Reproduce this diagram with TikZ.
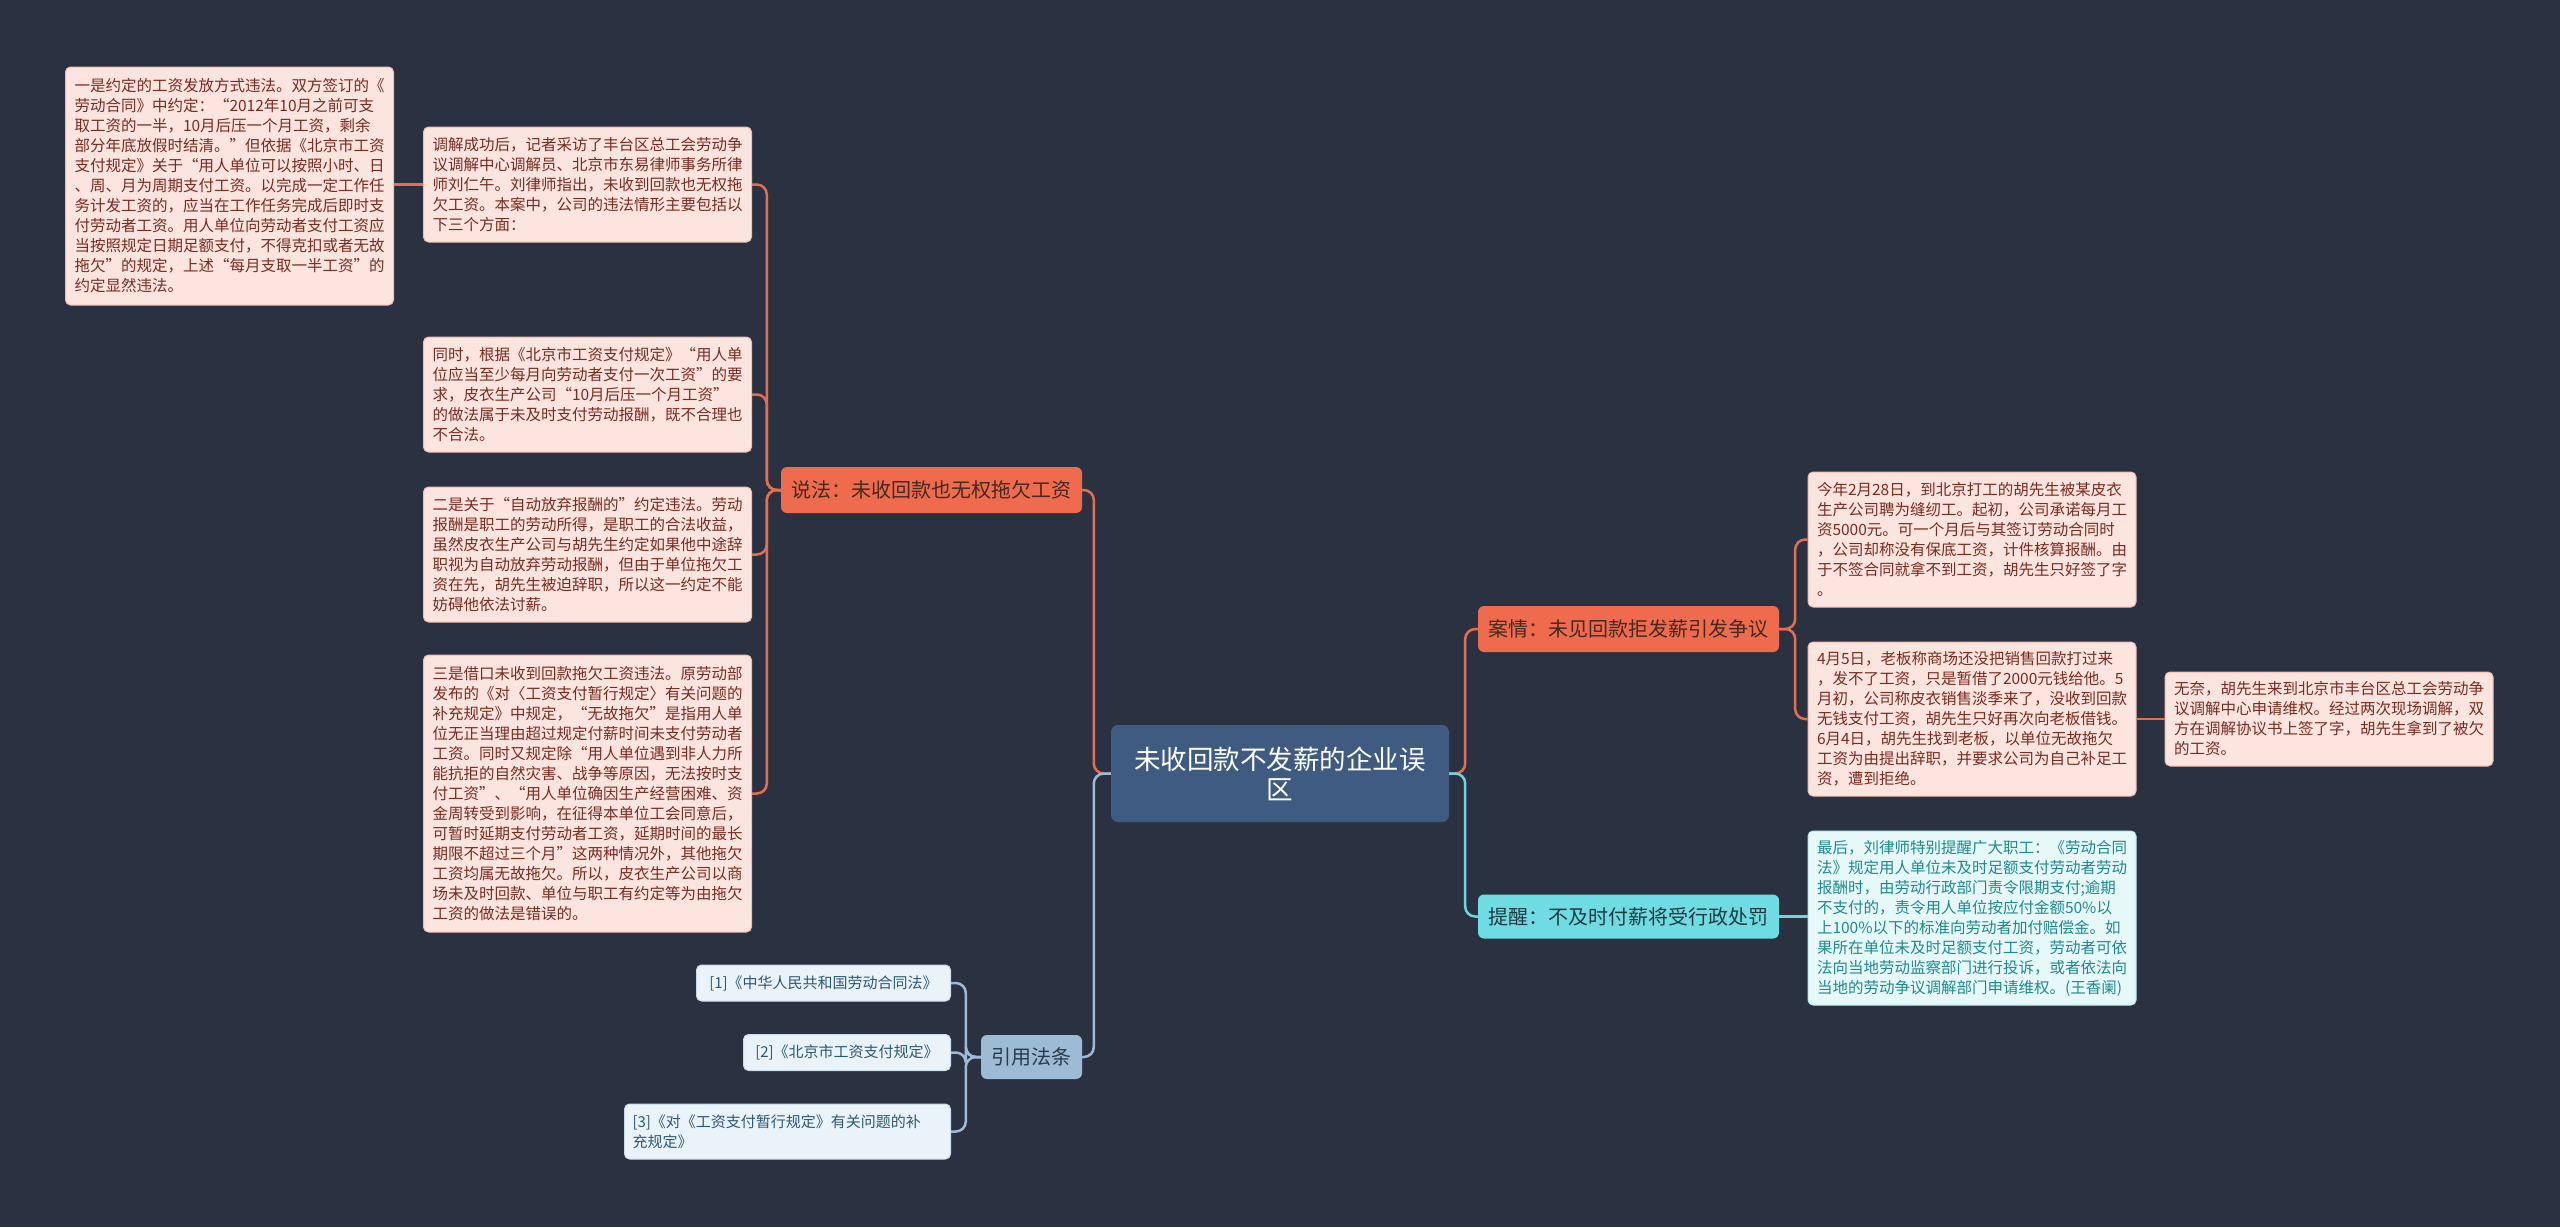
\documentclass[tikz,border=0pt]{standalone}
\usepackage{fontspec}
\setmainfont{Noto Sans CJK SC}
\usetikzlibrary{calc}
\definecolor{bgc}{HTML}{2A3242}
\definecolor{mainf}{HTML}{3F5B82}
\definecolor{orgf}{HTML}{EE6B4E}
\definecolor{orgt}{HTML}{45281F}
\definecolor{orgl}{HTML}{E66E50}
\definecolor{pinkf}{HTML}{FCE4DF}
\definecolor{pinkd}{HTML}{F4BBAE}
\definecolor{pinkt}{HTML}{7B2B1E}
\definecolor{cyanf}{HTML}{6EDCE2}
\definecolor{cyant}{HTML}{1F3A3F}
\definecolor{cyanl}{HTML}{6BD6DC}
\definecolor{lcyanf}{HTML}{E7F8F8}
\definecolor{lcyand}{HTML}{B8E8EA}
\definecolor{lcyant}{HTML}{1E8A8F}
\definecolor{bluef}{HTML}{9EBBD6}
\definecolor{bluet}{HTML}{2A3A4A}
\definecolor{bluel}{HTML}{9BBBD6}
\definecolor{lbluef}{HTML}{EAF3F9}
\definecolor{lblued}{HTML}{C9DCEB}
\definecolor{lbluet}{HTML}{2C5878}
\newcommand\fsleaf{\fontsize{15.5}{20}\selectfont}
\newcommand\fsref{\fontsize{15}{20}\selectfont}
\newcommand\fsmid{\fontsize{20}{24}\selectfont}
\newcommand\fsmain{\fontsize{26.5}{30}\selectfont}
\tikzset{
  leaf/.style={rounded corners=5pt, fill=pinkf, draw=pinkd, line width=1pt, text=pinkt, font=\fsleaf, inner xsep=9pt, inner ysep=0pt, text width=310pt, align=left},
  cleaf/.style={leaf, fill=lcyanf, draw=lcyand, text=lcyant},
  rleaf/.style={rounded corners=5pt, fill=lbluef, draw=lblued, line width=1pt, text=lbluet, font=\fsref, inner xsep=8pt, inner ysep=0pt, align=left, anchor=east},
  mainnode/.style={rounded corners=7pt, fill=mainf, text=white, font=\fsmain, minimum width=338pt, minimum height=97pt, align=center, inner sep=0pt},
  midnode/.style={rounded corners=6pt, fill=orgf, text=orgt, font=\fsmid, minimum width=301pt, minimum height=46pt, inner sep=0pt},
  cmid/.style={midnode, fill=cyanf, text=cyant},
  bmid/.style={midnode, fill=bluef, text=bluet, minimum width=101pt, minimum height=44pt},
  oline/.style={draw=orgl, line width=2.5pt, rounded corners=10pt},
  cline/.style={draw=cyanl, line width=2.5pt, rounded corners=10pt},
  bline/.style={draw=bluel, line width=2.5pt, rounded corners=10pt}
}
\begin{document}
\begin{tikzpicture}[x=1pt,y=-1pt]
\fill[bgc] (0,0) rectangle (2560,1227);
\useasboundingbox (0,0) rectangle (2560,1227);

\node[mainnode] (center) at (1280,773.5) {未收回款不发薪的企业误\\区};

\node[midnode] (shuofa) at (931.5,490) {说法：未收回款也无权拖欠工资};
\node[midnode] (anqing) at (1628.5,629) {案情：未见回款拒发薪引发争议};
\node[cmid, minimum height=44pt] (tixing) at (1628.5,916.5) {提醒：不及时付薪将受行政处罚};
\node[bmid] (yinyong) at (1031.5,1057) {引用法条};

\node[leaf, minimum height=238pt] (b1) at (229.5,186) {一是约定的工资发放方式违法。双方签订的《\\劳动合同》中约定：“2012年10月之前可支\\取工资的一半，10月后压一个月工资，剩余\\部分年底放假时结清。”但依据《北京市工资\\支付规定》关于“用人单位可以按照小时、日\\、周、月为周期支付工资。以完成一定工作任\\务计发工资的，应当在工作任务完成后即时支\\付劳动者工资。用人单位向劳动者支付工资应\\当按照规定日期足额支付，不得克扣或者无故\\拖欠”的规定，上述“每月支取一半工资”的\\约定显然违法。};

\node[leaf, minimum height=115pt] (b2) at (587.5,184.5) {调解成功后，记者采访了丰台区总工会劳动争\\议调解中心调解员、北京市东易律师事务所律\\师刘仁午。刘律师指出，未收到回款也无权拖\\欠工资。本案中，公司的违法情形主要包括以\\下三个方面：};

\node[leaf, minimum height=115pt] (b3) at (587.5,394.5) {同时，根据《北京市工资支付规定》“用人单\\位应当至少每月向劳动者支付一次工资”的要\\求，皮衣生产公司“10月后压一个月工资”\\的做法属于未及时支付劳动报酬，既不合理也\\不合法。};

\node[leaf, minimum height=135pt] (b4) at (587.5,554.5) {二是关于“自动放弃报酬的”约定违法。劳动\\报酬是职工的劳动所得，是职工的合法收益，\\虽然皮衣生产公司与胡先生约定如果他中途辞\\职视为自动放弃劳动报酬，但由于单位拖欠工\\资在先，胡先生被迫辞职，所以这一约定不能\\妨碍他依法讨薪。};

\node[leaf, minimum height=277pt] (b5) at (587.5,793.5) {三是借口未收到回款拖欠工资违法。原劳动部\\发布的《对〈工资支付暂行规定〉有关问题的\\补充规定》中规定，“无故拖欠”是指用人单\\位无正当理由超过规定付薪时间未支付劳动者\\工资。同时又规定除“用人单位遇到非人力所\\能抗拒的自然灾害、战争等原因，无法按时支\\付工资”、“用人单位确因生产经营困难、资\\金周转受到影响，在征得本单位工会同意后，\\可暂时延期支付劳动者工资，延期时间的最长\\期限不超过三个月”这两种情况外，其他拖欠\\工资均属无故拖欠。所以，皮衣生产公司以商\\场未及时回款、单位与职工有约定等为由拖欠\\工资的做法是错误的。};

\node[leaf, minimum height=135pt] (c1) at (1972,539.5) {今年2月28日，到北京打工的胡先生被某皮衣\\生产公司聘为缝纫工。起初，公司承诺每月工\\资5000元。可一个月后与其签订劳动合同时\\，公司却称没有保底工资，计件核算报酬。由\\于不签合同就拿不到工资，胡先生只好签了字\\。};

\node[leaf, minimum height=154pt] (c2) at (1972,719) {4月5日，老板称商场还没把销售回款打过来\\，发不了工资，只是暂借了2000元钱给他。5\\月初，公司称皮衣销售淡季来了，没收到回款\\无钱支付工资，胡先生只好再次向老板借钱。\\6月4日，胡先生找到老板，以单位无故拖欠\\工资为由提出辞职，并要求公司为自己补足工\\资，遭到拒绝。};

\node[leaf, minimum height=94pt] (c3) at (2329,719) {无奈，胡先生来到北京市丰台区总工会劳动争\\议调解中心申请维权。经过两次现场调解，双\\方在调解协议书上签了字，胡先生拿到了被欠\\的工资。};

\node[cleaf, minimum height=174pt] (d1) at (1972,918) {最后，刘律师特别提醒广大职工：《劳动合同\\法》规定用人单位未及时足额支付劳动者劳动\\报酬时，由劳动行政部门责令限期支付;逾期\\不支付的，责令用人单位按应付金额50\%以\\上100\%以下的标准向劳动者加付赔偿金。如\\果所在单位未及时足额支付工资，劳动者可依\\法向当地劳动监察部门进行投诉，或者依法向\\当地的劳动争议调解部门申请维权。(王香阑)};

\node[rleaf, minimum width=254pt, minimum height=36pt] (r1) at (951,983) {[1]《中华人民共和国劳动合同法》};
\node[rleaf, minimum width=207pt, minimum height=36pt] (r2) at (951,1052.5) {[2]《北京市工资支付规定》};
\node[rleaf, minimum width=326pt, text width=310pt, minimum height=55pt] (r3) at (951,1131.5) {[3]《对《工资支付暂行规定》有关问题的补\\充规定》};

% connectors
\draw[oline] (center.west) -- ++(-17,0) |- (shuofa.east);
\draw[bline] (center.west) -- ++(-17,0) |- (yinyong.east);
\draw[oline] (center.east) -- ++(16,0) |- (anqing.west);
\draw[cline] (center.east) -- ++(16,0) |- (tixing.west);

\draw[oline] (shuofa.west) -- ++(-14,0) |- (b2.east);
\draw[oline] (shuofa.west) -- ++(-14,0) |- (b3.east);
\draw[oline] (shuofa.west) -- ++(-14,0) |- (b4.east);
\draw[oline] (shuofa.west) -- ++(-14,0) |- (b5.east);
\draw[oline] (b2.west) -- (b2.west -| b1.east);

\draw[oline] (anqing.east) -- ++(16,0) |- (c1.west);
\draw[oline] (anqing.east) -- ++(16,0) |- (c2.west);
\draw[oline] (c2.east) -- (c3.west);
\draw[cline] (tixing.east) -- (tixing.east -| d1.west);

\draw[bline] (yinyong.west) -- ++(-15,0) |- (r1.east);
\draw[bline] (yinyong.west) -- ++(-15,0) |- (r2.east);
\draw[bline] (yinyong.west) -- ++(-15,0) |- (r3.east);
\end{tikzpicture}
\end{document}
